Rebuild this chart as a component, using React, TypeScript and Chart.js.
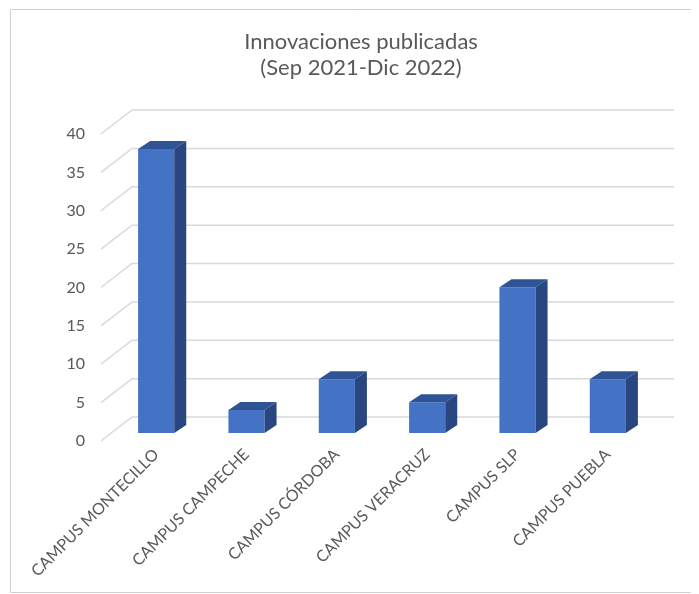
import React, { useEffect, useRef } from 'react';
import { Chart, registerables } from 'chart.js';

Chart.register(...registerables);

const categories = [
  'CAMPUS MONTECILLO',
  'CAMPUS CAMPECHE',
  'CAMPUS CÓRDOBA',
  'CAMPUS VERACRUZ',
  'CAMPUS SLP',
  'CAMPUS PUEBLA',
];
const innovaciones = [37, 3, 7, 4, 19, 7];
const titleLines = ['Innovaciones publicadas', '(Sep 2021-Dic 2022)'];
const yMin = 0;
const yMax = 40;
const yStep = 5;

const FONT = 'Lato, "Open Sans", sans-serif';
const TEXT = '#595959';

const bar3d = {
  id: 'bar3d',
  beforeDraw(chart: any) {
    const { ctx, width, height } = chart;
    ctx.save();
    ctx.fillStyle = '#ffffff';
    ctx.fillRect(0, 0, width, height);
    ctx.strokeStyle = '#d0d0d0';
    ctx.lineWidth = 1;
    ctx.beginPath();
    ctx.moveTo(width, 1.5);
    ctx.lineTo(2.5, 1.5);
    ctx.lineTo(2.5, height - 1.5);
    ctx.lineTo(width, height - 1.5);
    ctx.stroke();
    ctx.restore();
  },
  beforeDatasetsDraw(chart: any) {
    const { ctx, chartArea, scales } = chart;
    const y = scales.y;
    const BX = 21, BY = 16, FX = 10, FY = 8;
    ctx.save();
    ctx.strokeStyle = '#d9d9d9';
    ctx.lineWidth = 1.5;
    for (let v = yMin; v <= yMax; v += yStep) {
      const py = y.getPixelForValue(v);
      ctx.beginPath();
      ctx.moveTo(chartArea.left - FX, py + FY);
      ctx.lineTo(chartArea.left + BX, py - BY);
      ctx.lineTo(chartArea.right + BX, py - BY);
      ctx.stroke();
    }
    ctx.restore();
  },
  afterDatasetsDraw(chart: any) {
    const { ctx } = chart;
    const meta = chart.getDatasetMeta(0);
    const DX = 12, DY = 8;
    ctx.save();
    meta.data.forEach((bar: any) => {
      const { x, y, base, width } = bar.getProps(['x', 'y', 'base', 'width'], true);
      const l = x - width / 2;
      const r = x + width / 2;
      ctx.fillStyle = '#2F5496';
      ctx.beginPath();
      ctx.moveTo(l, y);
      ctx.lineTo(l + DX, y - DY);
      ctx.lineTo(r + DX, y - DY);
      ctx.lineTo(r, y);
      ctx.closePath();
      ctx.fill();
      ctx.fillStyle = '#294680';
      ctx.beginPath();
      ctx.moveTo(r, y);
      ctx.lineTo(r + DX, y - DY);
      ctx.lineTo(r + DX, base - DY);
      ctx.lineTo(r, base);
      ctx.closePath();
      ctx.fill();
    });
    ctx.restore();
  },
  afterDraw(chart: any) {
    const { ctx } = chart;
    ctx.save();
    ctx.fillStyle = TEXT;
    ctx.font = `22px ${FONT}`;
    ctx.textAlign = 'center';
    ctx.textBaseline = 'middle';
    titleLines.forEach((line, i) => {
      ctx.fillText(line, 353, 34 + i * 26);
    });
    ctx.restore();
  },
};

export default function App() {
  const ref = useRef<HTMLCanvasElement>(null);
  useEffect(() => {
    document.documentElement.style.overflow = 'hidden';
    if (!ref.current) return;
    const chart = new Chart(ref.current, {
      type: 'bar',
      data: {
        labels: categories,
        datasets: [
          {
            label: 'Innovaciones',
            data: innovaciones,
            backgroundColor: '#4472C4',
            borderWidth: 0,
            barPercentage: 0.4,
            categoryPercentage: 1,
          },
        ],
      },
      options: {
        responsive: false,
        animation: false,
        maintainAspectRatio: false,
        layout: { padding: { left: 0, right: 46, top: 118, bottom: 0 } },
        plugins: {
          legend: { display: false },
          tooltip: { enabled: false },
          title: { display: false },
        },
        scales: {
          x: {
            grid: { display: false, drawTicks: false },
            border: { display: false },
            ticks: {
              color: TEXT,
              font: { family: FONT, size: 16 },
              minRotation: 45,
              maxRotation: 45,
              padding: 12,
              autoSkip: false,
            },
            afterFit(scale: any) {
              scale.height = 161;
            },
          },
          y: {
            min: yMin,
            max: yMax,
            grid: { display: false, drawTicks: false },
            border: { display: false },
            ticks: {
              stepSize: yStep,
              color: TEXT,
              font: { family: FONT, size: 16 },
              padding: 26,
              labelOffset: 8,
            },
            afterFit(scale: any) {
              scale.width = 103;
            },
          },
        },
      },
      plugins: [bar3d],
    });
    return () => chart.destroy();
  }, []);

  return (
    <div style={{ position: 'relative', width: 691, height: 586 }}>
      <canvas
        ref={ref}
        width={691}
        height={586}
        style={{ position: 'absolute', left: 0, top: 0, width: 691, height: 586 }}
      />
    </div>
  );
}
